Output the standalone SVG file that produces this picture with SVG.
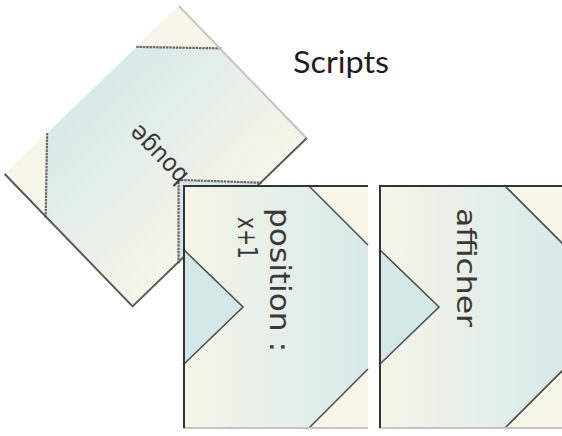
<svg xmlns="http://www.w3.org/2000/svg" xmlns:xlink="http://www.w3.org/1999/xlink" width="562" height="436" viewBox="0 0 562 436">
  <style>
    .hand { font-family: "DejaVu Sans", "Noto Sans", sans-serif; fill: #3a3a3a; }
    .title { font-family: Lato, "Noto Sans", sans-serif; font-size: 30px; fill: #1e1e1e; }
    .notch { fill: #d5e8e8; stroke: none; }
    .corner { fill: #f6f6e9; stroke: none; }
    .cut { fill: none; stroke: var(--cut-colour, #505050); stroke-width: var(--cut-width, 1.6); stroke-dasharray: var(--cut-dash, none); }
    .edge-dark { fill: none; stroke: var(--edge-colour, #333); stroke-width: 2; }
    .edge-light { fill: none; stroke: #c4c4c0; stroke-width: 2; }
    .worn { --cut-dash: 2.5 0.8; --cut-colour: #6a6a6a; --cut-width: 2.2; --edge-colour: #5a5a5a; }
  </style>
  <defs>
    <linearGradient id="card-grad" x1="0" y1="0" x2="1" y2="0">
      <stop offset="0" stop-color="#f5f5e8"/>
      <stop offset="1" stop-color="#d8eae8"/>
    </linearGradient>
    <!-- card face: 185 x 244, notch on the left edge, cut corners on the right -->
    <g id="card-face">
      <rect width="185" height="244" fill="url(#card-grad)"/>
      <polygon class="notch" points="0,64 60,122 0,180"/>
      <polyline class="cut" points="0,64 60,122 0,180"/>
      <polygon class="corner" points="125,0 185,0 185,60"/>
      <line class="cut" x1="125" y1="0" x2="185" y2="60"/>
      <polygon class="corner" points="125,244 185,244 185,184"/>
      <line class="cut" x1="125" y1="244" x2="185" y2="184"/>
      <path class="edge-light" d="M0,243 H185"/>
      <path class="edge-dark" d="M1,243 V1 H185"/>
    </g>
  </defs>

  <!-- tilted card -->
  <g id="card-bouge" transform="translate(156 156.5) rotate(226) translate(-92.5 -122)">
    <use class="worn" xlink:href="#card-face" href="#card-face"/>
    <text class="hand" x="92" y="133" font-size="25" text-anchor="middle" textLength="72" lengthAdjust="spacingAndGlyphs">bouge</text>
  </g>

  <g id="card-position" transform="translate(183 185)">
    <use xlink:href="#card-face" href="#card-face"/>
    <text class="hand" transform="translate(87 23) rotate(90)" font-size="28" textLength="144" lengthAdjust="spacingAndGlyphs">position :</text>
    <text class="hand" transform="translate(55 32) rotate(90)" font-size="27" textLength="42" lengthAdjust="spacingAndGlyphs">x+1</text>
  </g>

  <g id="card-afficher" transform="translate(379 185)">
    <use xlink:href="#card-face" href="#card-face"/>
    <text class="hand" transform="translate(78 23) rotate(90)" font-size="27" textLength="119" lengthAdjust="spacingAndGlyphs">afficher</text>
  </g>

  <g id="connectors"/>

  <g id="title">
    <text class="title" x="293" y="73" textLength="96" lengthAdjust="spacingAndGlyphs">Scripts</text>
  </g>
</svg>
